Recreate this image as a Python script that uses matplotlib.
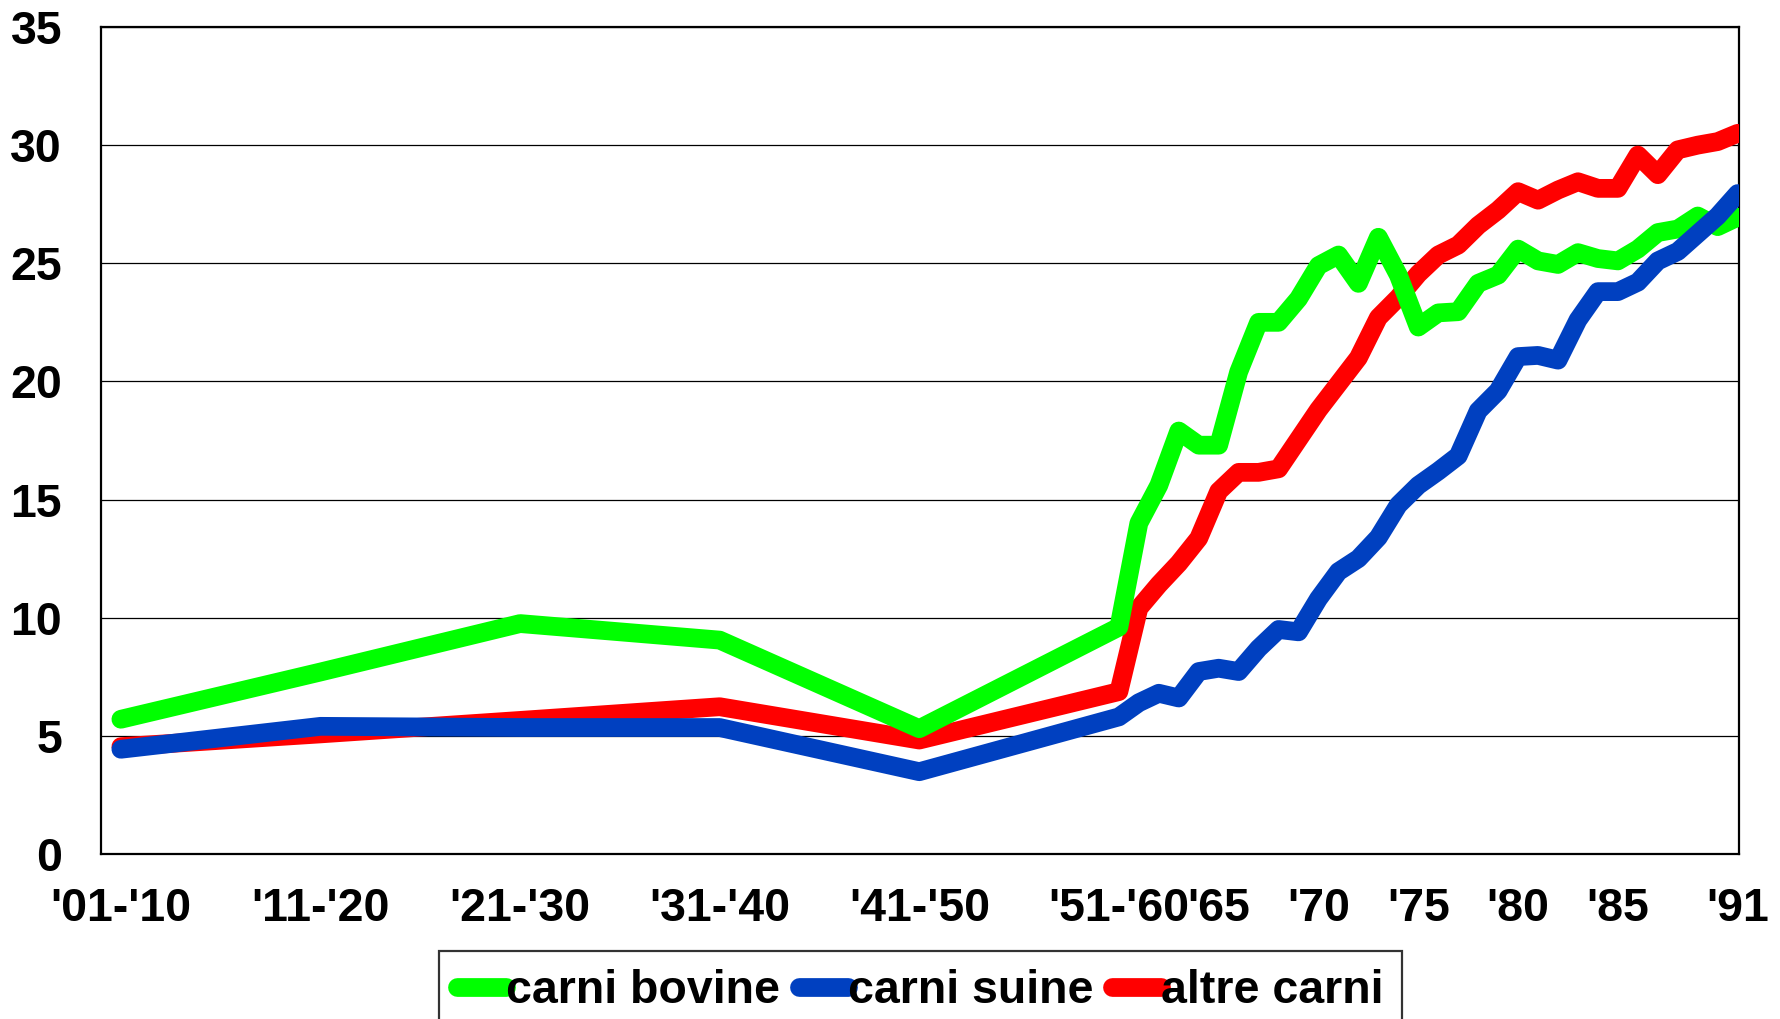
import matplotlib
matplotlib.use('Agg')
import matplotlib.pyplot as plt

# decades first, then single years 1961-1991
years = [1910, 1920, 1930, 1940, 1950, 1960] + list(range(1961, 1992))

tick_pos = [1910, 1920, 1930, 1940, 1950, 1960, 1965, 1970, 1975, 1980, 1985, 1991]
tick_lab = ["'01-'10", "'11-'20", "'21-'30", "'31-'40", "'41-'50", "'51-'60",
            "'65", "'70", "'75", "'80", "'85", "'91"]

bovine = [5.7, 7.7, 9.75, 9.05, 5.3, 9.6,
          14.0, 15.6, 17.9, 17.3, 17.3, 20.4, 22.5, 22.5, 23.5, 24.9,
          25.35, 24.15, 26.1, 24.5, 22.3, 22.9, 22.95, 24.15, 24.5, 25.6,
          25.1, 24.95, 25.45, 25.2, 25.1, 25.6, 26.3, 26.45, 27.0, 26.55, 26.95]
suine = [4.43, 5.4, 5.35, 5.35, 3.48, 5.8,
         6.4, 6.8, 6.6, 7.72, 7.86, 7.72, 8.7, 9.5, 9.4, 10.8,
         11.95, 12.5, 13.4, 14.77, 15.6, 16.2, 16.85, 18.75, 19.6, 21.05,
         21.1, 20.9, 22.6, 23.8, 23.8, 24.2, 25.1, 25.5, 26.25, 27.0, 27.95]
altre = [4.54, 5.08, 5.65, 6.23, 4.82, 6.87,
         10.4, 11.4, 12.3, 13.36, 15.35, 16.15, 16.15, 16.3, 17.55, 18.8,
         19.9, 21.0, 22.7, 23.55, 24.55, 25.35, 25.77, 26.6, 27.25, 28.03,
         27.67, 28.1, 28.45, 28.17, 28.17, 29.58, 28.75, 29.8, 30.0, 30.15, 30.5]

plt.rcParams['font.family'] = ['Liberation Sans', 'DejaVu Sans']
plt.rcParams['font.weight'] = 'bold'

fig = plt.figure(figsize=(17.8, 10.19), dpi=100)
ax = fig.add_axes([0.0567, 0.162, 0.9203, 0.8115])

lw = 13.5
kw = dict(linewidth=lw, solid_capstyle='round', solid_joinstyle='round')
l_alt, = ax.plot(years, altre, color='#FF0000', zorder=3, **kw)
l_bov, = ax.plot(years, bovine, color='#00FF00', zorder=4, **kw)
l_sui, = ax.plot(years, suine, color='#0040C0', zorder=5, **kw)

ax.set_xlim(1909, 1991.07)
ax.set_ylim(0, 35)
ax.set_yticks(range(0, 36, 5))
ax.set_xticks(tick_pos)
ax.set_xticklabels(tick_lab)
ax.tick_params(axis='both', length=0, labelsize=33.5)
ax.tick_params(axis='x', pad=24)
ax.tick_params(axis='y', pad=28)
ax.yaxis.grid(True, color='black', linewidth=0.9)
ax.set_axisbelow(True)
for s in ax.spines.values():
    s.set_linewidth(1.6)
    s.set_color('black')

leg = fig.legend([l_bov, l_sui, l_alt], ['carni bovine', 'carni suine', 'altre carni'],
                 loc='upper center', bbox_to_anchor=(0.517, 0.067), ncol=3,
                 fontsize=33.5, handlelength=1.05, handletextpad=0.0,
                 columnspacing=0.4, frameon=True, fancybox=False,
                 borderpad=0.4, borderaxespad=0)
leg.get_frame().set_edgecolor('black')
leg.get_frame().set_linewidth(1.6)

fig.savefig('out.png', dpi=100)
